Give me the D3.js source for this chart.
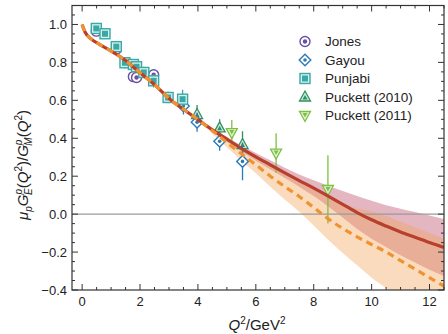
<!DOCTYPE html>
<html>
<head>
<meta charset="utf-8">
<script src="https://cdn.jsdelivr.net/npm/d3@7"></script>
<style>
  body { margin: 0; background: #fff; }
  svg { font-family: "Liberation Sans", Arial, sans-serif; }
</style>
</head>
<body>
<div id="chart"></div>
<script>
// curve samples (Q^2 in GeV^2)
const curveQ2 = [0, 0.1, 0.3, 0.6, 1, 1.5, 2, 2.5, 3, 3.5, 4, 4.5, 5, 5.5, 6, 6.5, 7, 7.5, 8, 8.5, 9, 9.5, 10, 10.5, 11, 11.5, 12, 12.5];
const solidFit = [1.0, 0.96, 0.925, 0.895, 0.86, 0.81, 0.745, 0.683, 0.61, 0.553, 0.498, 0.444, 0.395, 0.347, 0.302, 0.26, 0.218, 0.177, 0.137, 0.095, 0.052, 0.008, -0.03, -0.063, -0.094, -0.122, -0.15, -0.176];
const dashedFit = [1.0, 0.96, 0.925, 0.895, 0.86, 0.81, 0.745, 0.683, 0.61, 0.553, 0.498, 0.44, 0.378, 0.318, 0.26, 0.2, 0.145, 0.093, 0.035, -0.025, -0.075, -0.12, -0.16, -0.2, -0.245, -0.29, -0.335, -0.38];
const solidErr = [0.004, 0.004, 0.004, 0.004, 0.004, 0.004, 0.004, 0.004, 0.004, 0.005, 0.006, 0.008, 0.012, 0.016, 0.02, 0.024, 0.027, 0.032, 0.042, 0.055, 0.07, 0.087, 0.1, 0.11, 0.123, 0.133, 0.143, 0.15];
const dashedErr = [0.004, 0.004, 0.004, 0.004, 0.004, 0.004, 0.004, 0.004, 0.004, 0.004, 0.008, 0.015, 0.025, 0.035, 0.045, 0.055, 0.068, 0.08, 0.095, 0.11, 0.13, 0.15, 0.175, 0.19, 0.205, 0.22, 0.235, 0.25];

// measurements
const jonesQ2 = [0.49, 1.18, 1.77, 1.88, 2.47];
const jonesR = [0.965, 0.87, 0.725, 0.72, 0.735];
const jonesE = [0.012, 0.015, 0.015, 0.015, 0.018];

const gayouQ2 = [3.5, 3.97, 4.75, 5.54];
const gayouR = [0.57, 0.485, 0.384, 0.278];
const gayouE = [0.045, 0.05, 0.05, 0.1];

const punjabiQ2 = [0.49, 0.79, 1.18, 1.48, 1.77, 1.88, 2.13, 2.47, 2.97, 3.47];
const punjabiR = [0.979, 0.951, 0.883, 0.798, 0.789, 0.777, 0.747, 0.703, 0.615, 0.606];
const punjabiE = [0.012, 0.012, 0.015, 0.03, 0.025, 0.03, 0.03, 0.035, 0.03, 0.05];

const puck10Q2 = [3.97, 4.75, 5.54];
const puck10R = [0.525, 0.455, 0.367];
const puck10E = [0.05, 0.045, 0.07];

const puck11Q2 = [5.17, 6.7, 8.49];
const puck11R = [0.43, 0.322, 0.13];
const puck11E = [0.066, 0.105, 0.18];

const xTicks = [0, 2, 4, 6, 8, 10, 12];
const yTicks = [-0.4, -0.2, 0.0, 0.2, 0.4, 0.6, 0.8, 1.0];

const W = 448, H = 334;
const m = {left: 72, right: 444, top: 5.5, bottom: 290};

const svg = d3.select("#chart").append("svg")
    .attr("width", W).attr("height", H);

const x = d3.scaleLinear().domain([-0.35, 12.5]).range([m.left, m.right]);
const y = d3.scaleLinear().domain([-0.4, 1.1]).range([m.bottom, m.top]);

svg.append("clipPath").attr("id", "clip")
  .append("rect").attr("x", m.left).attr("y", m.top)
  .attr("width", m.right - m.left).attr("height", m.bottom - m.top);

const plot = svg.append("g").attr("clip-path", "url(#clip)");

const band = (fit, err) => curveQ2.map((q, i) => ({q: q, lo: fit[i] - err[i], hi: fit[i] + err[i]}));
const area = d3.area().curve(d3.curveMonotoneX)
    .x(d => x(d.q)).y0(d => y(d.lo)).y1(d => y(d.hi));

plot.append("path").datum(band(solidFit, solidErr))
    .attr("d", area).attr("fill", "#c25d78").attr("fill-opacity", 0.45);
plot.append("path").datum(band(dashedFit, dashedErr))
    .attr("d", area).attr("fill", "#f2a055").attr("fill-opacity", 0.38);

// zero line
plot.append("line")
    .attr("x1", m.left).attr("x2", m.right)
    .attr("y1", y(0)).attr("y2", y(0))
    .attr("stroke", "#9a9a9a").attr("stroke-width", 1.3);

// points
function series(q2, r, e, color, draw) {
  const g = plot.append("g");
  const pts = q2.map((q, i) => ({q: q, r: r[i], e: e[i]}));
  g.selectAll("line.err").data(pts).enter().append("line")
    .attr("x1", d => x(d.q)).attr("x2", d => x(d.q))
    .attr("y1", d => y(d.r - d.e)).attr("y2", d => y(d.r + d.e))
    .attr("stroke", color).attr("stroke-width", 1.3);
  pts.forEach(d => draw(g, x(d.q), y(d.r)));
}

function drawCircle(g, cx, cy) {
  g.append("circle").attr("cx", cx).attr("cy", cy).attr("r", 5)
    .attr("fill", "#fff").attr("stroke", "#6a4fa3").attr("stroke-width", 1.4);
  g.append("circle").attr("cx", cx).attr("cy", cy).attr("r", 2.2).attr("fill", "#6a4fa3");
}
function drawDiamond(g, cx, cy) {
  g.append("path").attr("transform", `translate(${cx},${cy})`)
    .attr("d", "M0,-5.8L5.8,0L0,5.8L-5.8,0Z")
    .attr("fill", "#fff").attr("stroke", "#2b7bb9").attr("stroke-width", 1.4);
  g.append("circle").attr("cx", cx).attr("cy", cy).attr("r", 1.8).attr("fill", "#2b7bb9");
}
function drawSquare(g, cx, cy) {
  g.append("rect").attr("x", cx - 5).attr("y", cy - 5).attr("width", 10).attr("height", 10)
    .attr("fill", "#d8f0ee").attr("stroke", "#3aa9a6").attr("stroke-width", 1.4);
  g.append("rect").attr("x", cx - 3).attr("y", cy - 3).attr("width", 6).attr("height", 6)
    .attr("fill", "#3aa9a6");
}
function drawUp(g, cx, cy) {
  g.append("path").attr("transform", `translate(${cx},${cy})`)
    .attr("d", "M0,-6L5.5,4L-5.5,4Z")
    .attr("fill", "#cfe9d8").attr("stroke", "#2e9160").attr("stroke-width", 1.3);
  g.append("path").attr("transform", `translate(${cx},${cy})`)
    .attr("d", "M0,-2L2.5,2.5L-2.5,2.5Z").attr("fill", "#2e9160");
}
function drawDown(g, cx, cy) {
  g.append("path").attr("transform", `translate(${cx},${cy})`)
    .attr("d", "M0,6L5.5,-4L-5.5,-4Z")
    .attr("fill", "#e4f3d4").attr("stroke", "#7cc043").attr("stroke-width", 1.3);
  g.append("path").attr("transform", `translate(${cx},${cy})`)
    .attr("d", "M0,2L2.5,-2.5L-2.5,-2.5Z").attr("fill", "#7cc043");
}

series(puck11Q2, puck11R, puck11E, "#7cc043", drawDown);
series(puck10Q2, puck10R, puck10E, "#2e9160", drawUp);
series(gayouQ2, gayouR, gayouE, "#2b7bb9", drawDiamond);
series(jonesQ2, jonesR, jonesE, "#6a4fa3", drawCircle);
series(punjabiQ2, punjabiR, punjabiE, "#3aa9a6", drawSquare);

// curves
const line = d3.line().curve(d3.curveMonotoneX).x(d => x(d[0])).y(d => y(d[1]));
plot.append("path").datum(curveQ2.map((q, i) => [q, solidFit[i]]))
    .attr("d", line).attr("fill", "none").attr("stroke", "#b83f2b").attr("stroke-width", 3.2);
plot.append("path").datum(curveQ2.map((q, i) => [q, dashedFit[i]]))
    .attr("d", line).attr("fill", "none").attr("stroke", "#ef9330").attr("stroke-width", 3.2)
    .attr("stroke-dasharray", "7,5");

// frame and ticks
const axG = svg.append("g").attr("font-size", 13).attr("fill", "#222");
const xMinor = d3.range(0, 12.51, 0.5);
const yMinor = d3.range(-0.4, 1.1001, 0.05);
const tickStroke = "#333";

xMinor.forEach(v => {
  const major = Math.abs(v - Math.round(v / 2) * 2) < 1e-6;
  const len = major ? 6 : 3;
  axG.append("line").attr("x1", x(v)).attr("x2", x(v)).attr("y1", m.bottom).attr("y2", m.bottom - len)
    .attr("stroke", tickStroke).attr("stroke-width", 1);
  axG.append("line").attr("x1", x(v)).attr("x2", x(v)).attr("y1", m.top).attr("y2", m.top + len)
    .attr("stroke", tickStroke).attr("stroke-width", 1);
});
yMinor.forEach(v => {
  const major = Math.abs(v * 5 - Math.round(v * 5)) < 1e-6;
  const len = major ? 6 : 3;
  axG.append("line").attr("x1", m.left).attr("x2", m.left + len).attr("y1", y(v)).attr("y2", y(v))
    .attr("stroke", tickStroke).attr("stroke-width", 1);
  axG.append("line").attr("x1", m.right).attr("x2", m.right - len).attr("y1", y(v)).attr("y2", y(v))
    .attr("stroke", tickStroke).attr("stroke-width", 1);
});
axG.append("rect").attr("x", m.left).attr("y", m.top).attr("width", m.right - m.left).attr("height", m.bottom - m.top)
  .attr("fill", "none").attr("stroke", "#333").attr("stroke-width", 1.2);

axG.selectAll("text.xt").data(xTicks).enter().append("text")
  .attr("x", d => x(d)).attr("y", m.bottom + 16).attr("text-anchor", "middle").text(d => d);
axG.selectAll("text.yt").data(yTicks).enter().append("text")
  .attr("x", m.left - 5).attr("y", d => y(d) + 4.5).attr("text-anchor", "end")
  .text(d => d3.format(".1f")(d).replace("-", "\u2212"));

// x label
const xl = svg.append("text").attr("x", 257).attr("y", 330).attr("text-anchor", "middle")
  .attr("font-size", 15).attr("fill", "#222");
xl.append("tspan").attr("font-style", "italic").text("Q");
xl.append("tspan").attr("font-size", 10).attr("dy", -6).text("2");
xl.append("tspan").attr("dy", 6).text("/GeV");
xl.append("tspan").attr("font-size", 10).attr("dy", -6).text("2");

// y label
const yl = svg.append("text").attr("transform", "translate(28,165) rotate(-90)")
  .attr("text-anchor", "middle").attr("font-size", 15).attr("fill", "#222");
yl.append("tspan").attr("font-style", "italic").text("\u03bc");
yl.append("tspan").attr("font-style", "italic").attr("font-size", 10).attr("dy", 4).text("p");
yl.append("tspan").attr("font-style", "italic").attr("dy", -4).text("G");
yl.append("tspan").attr("font-style", "italic").attr("font-size", 10).attr("dy", -6).text("p");
yl.append("tspan").attr("font-style", "italic").attr("font-size", 10).attr("dx", -6).attr("dy", 10).text("E");
yl.append("tspan").attr("dy", -4).text("(");
yl.append("tspan").attr("font-style", "italic").text("Q");
yl.append("tspan").attr("font-size", 10).attr("dy", -6).text("2");
yl.append("tspan").attr("dy", 6).text(")/");
yl.append("tspan").attr("font-style", "italic").text("G");
yl.append("tspan").attr("font-style", "italic").attr("font-size", 10).attr("dy", -6).text("p");
yl.append("tspan").attr("font-style", "italic").attr("font-size", 10).attr("dx", -6).attr("dy", 10).text("M");
yl.append("tspan").attr("dy", -4).text("(");
yl.append("tspan").attr("font-style", "italic").text("Q");
yl.append("tspan").attr("font-size", 10).attr("dy", -6).text("2");
yl.append("tspan").attr("dy", 6).text(")");

// legend
const legendNames = ["Jones", "Gayou", "Punjabi", "Puckett (2010)", "Puckett (2011)"];
const legendDraw = [drawCircle, drawDiamond, drawSquare, drawUp, drawDown];
const lg = svg.append("g");
legendNames.forEach((name, i) => {
  const ly = 41.5 + i * 18.5;
  legendDraw[i](lg, 305, ly);
  lg.append("text").attr("x", 325).attr("y", ly + 4.5).attr("font-size", 13.5).attr("fill", "#222").text(name);
});
</script>
</body>
</html>
